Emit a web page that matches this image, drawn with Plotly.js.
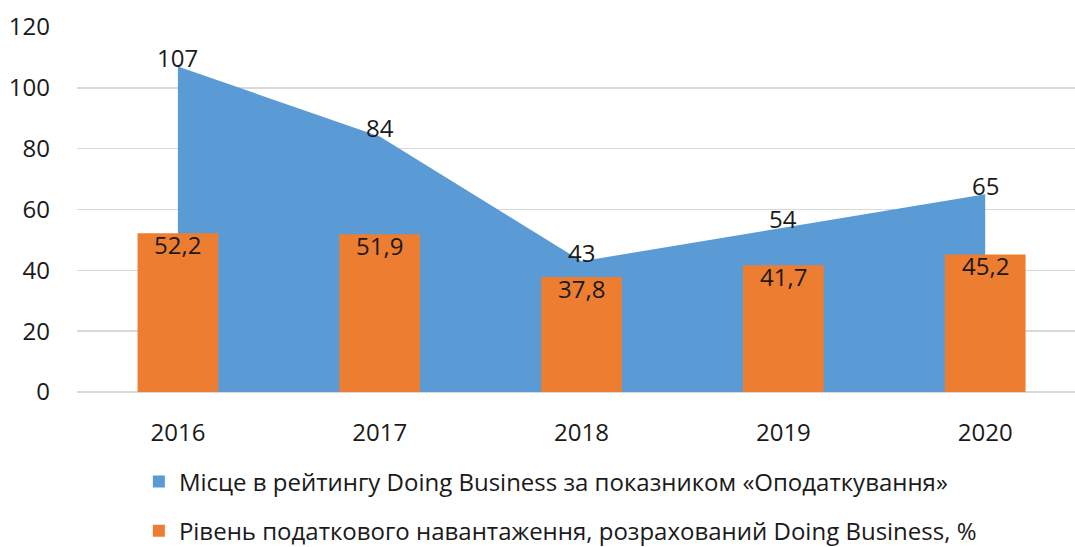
<!DOCTYPE html>
<html>
<head>
<meta charset="utf-8">
<script src="https://cdn.plot.ly/plotly-3.0.1.min.js"></script>
<style>html,body{margin:0;padding:0;background:#fff;}#chart{width:1075px;height:547px;}</style>
</head>
<body>
<div id="chart"></div>
<script>
const years = ['2016', '2017', '2018', '2019', '2020'];
const rankValues = [107, 84, 43, 54, 65];
const burdenValues = [52.2, 51.9, 37.8, 41.7, 45.2];
const rankName = 'Місце в рейтингу Doing Business за показником «Оподаткування»';
const burdenName = 'Рівень податкового навантаження, розрахований Doing Business, %';

const xs = years.map((_, i) => i);
const fmt = v => String(v).replace('.', ',');
const FONT = 'Open Sans, Noto Sans, sans-serif';
const FS = 24;
const XRANGE = [-0.5, 4.445];
const YRANGE = [0, 120];

const traces = [
  {
    type: 'scatter', x: xs, y: rankValues, mode: 'none', xaxis: 'x', yaxis: 'y',
    fill: 'tozeroy', fillcolor: '#5B9BD5', line: {width: 0, color: '#5B9BD5'},
    name: rankName, legendgroup: 'a', showlegend: false, hoverinfo: 'skip'
  },
  {
    type: 'bar', x: [null], y: [null], name: rankName, xaxis: 'x2', yaxis: 'y2',
    marker: {color: '#5B9BD5'}, legendgroup: 'a', showlegend: true
  },
  {
    type: 'bar', x: xs, y: burdenValues, name: burdenName, width: 0.4,
    xaxis: 'x2', yaxis: 'y2',
    marker: {color: '#ED7D31'}, legendgroup: 'b', hoverinfo: 'skip'
  }
];

const labelFont = {family: FONT, size: FS, color: '#1a1a1a'};
const rankLabels = rankValues.map((v, i) => ({
  x: xs[i], y: v, xref: 'x', yref: 'y', text: fmt(v), showarrow: false,
  yshift: 9, font: labelFont
}));
const burdenLabels = burdenValues.map((v, i) => ({
  x: xs[i], y: v, xref: 'x2', yref: 'y2', text: fmt(v), showarrow: false,
  yshift: -11, font: labelFont
}));

const layout = {
  width: 1075, height: 547,
  margin: {l: 77, r: 0, t: 27, b: 154.5},
  paper_bgcolor: '#ffffff', plot_bgcolor: '#ffffff',
  font: {family: FONT, size: FS, color: '#1a1a1a'},
  showlegend: true,
  annotations: rankLabels.concat(burdenLabels),
  xaxis: {
    range: XRANGE, tickmode: 'array', tickvals: xs, ticktext: years,
    showgrid: false, zeroline: false, showline: false, ticks: '',
    ticklabelstandoff: 24, tickfont: {family: FONT, size: FS, color: '#1a1a1a'}
  },
  yaxis: {
    range: YRANGE, dtick: 20, showgrid: true, gridcolor: '#d9d9d9', gridwidth: 1.5,
    zeroline: true, zerolinecolor: '#d9d9d9', zerolinewidth: 1.5,
    showline: false, ticks: '', ticklabelstandoff: 26,
    tickfont: {family: FONT, size: FS, color: '#1a1a1a'}
  },
  xaxis2: {
    overlaying: 'x', range: XRANGE, showgrid: false, zeroline: false,
    showline: false, ticks: '', showticklabels: false
  },
  yaxis2: {
    overlaying: 'y', range: YRANGE, showgrid: false, zeroline: false,
    showline: false, ticks: '', showticklabels: false
  },
  legend: {
    x: 0.062, xanchor: 'left', xref: 'paper',
    y: 0.16, yanchor: 'top', yref: 'container',
    orientation: 'v', traceorder: 'grouped', tracegroupgap: 15,
    font: {family: FONT, size: FS, color: '#1a1a1a'},
    bgcolor: 'rgba(0,0,0,0)'
  }
};

Plotly.newPlot('chart', traces, layout, {displayModeBar: false, staticPlot: true});
</script>
</body>
</html>
